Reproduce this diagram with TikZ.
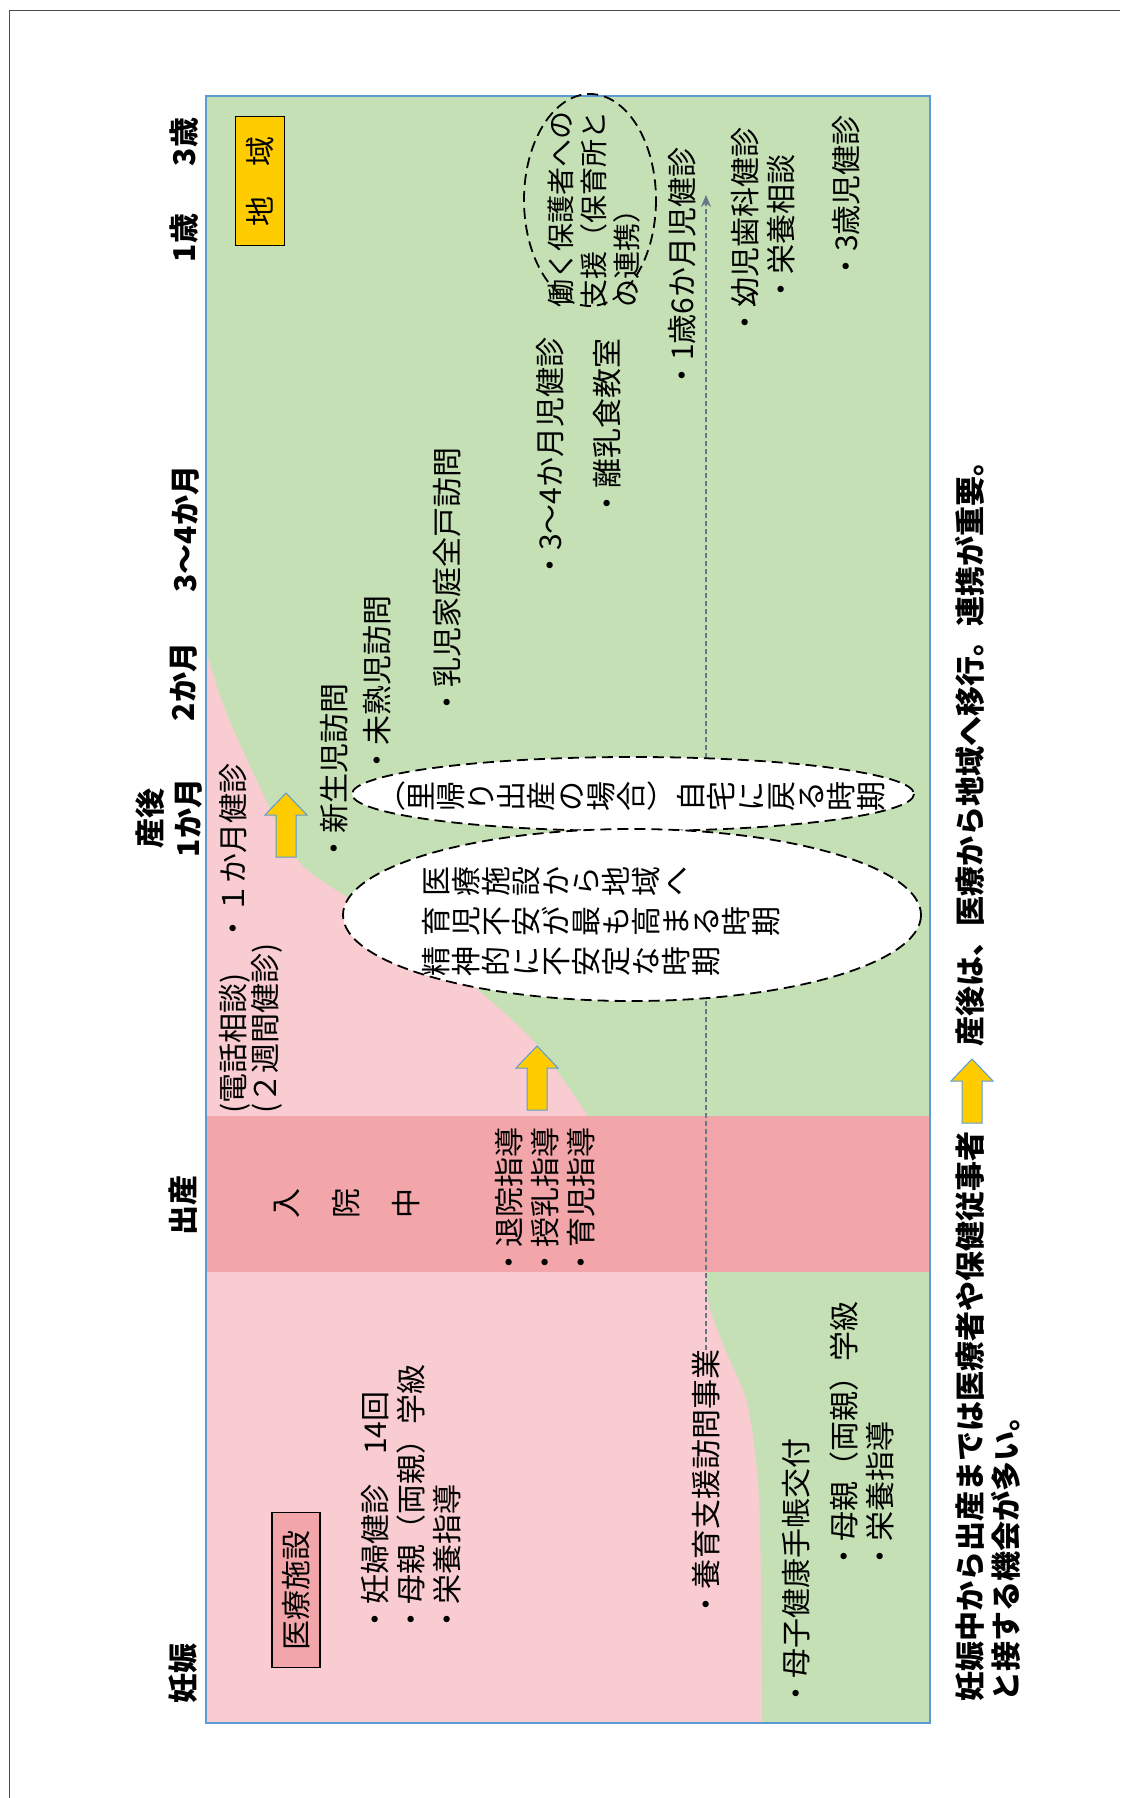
\documentclass[tikz,border=0pt]{standalone}
\usepackage{fontspec}
\setmainfont{Noto Sans CJK JP}
\usepackage{graphicx}
\usetikzlibrary{arrows.meta}

\definecolor{chiiki}{RGB}{197,224,180}
\definecolor{iryou}{RGB}{248,204,208}
\definecolor{nyuuin}{RGB}{243,166,169}
\definecolor{kiiro}{RGB}{255,204,0}
\definecolor{waku}{RGB}{91,155,213}
\definecolor{tenseniro}{RGB}{105,118,135}

% vertical (tategaki) text: each character turned by 90 degrees
\makeatletter
\newcommand\tatemoji[1]{\rotatebox[origin=c]{90}{\makebox[1em]{\rule[-.12em]{0pt}{1em}#1}}}
\newcommand\tate[1]{\@tfor\tatetok:=#1\do{\tatemoji{\tatetok}}}
\makeatother

% yellow block arrow: x of the middle, y of the tip
\newcommand\kiiroya[2]{%
  \draw[yajirushi] (#1-10,#2+64) -- (#1-10,#2+22) -- (#1-21,#2+22) -- (#1,#2)
    -- (#1+21,#2+22) -- (#1+10,#2+22) -- (#1+10,#2+64) -- cycle;}

\begin{document}
\begin{tikzpicture}[x=1pt, y=-1pt,
    txt/.style={rotate=90, anchor=west, inner sep=0pt, align=left,
      font=\fontsize{30}{36}\selectfont},
    midasi/.style={rotate=90, inner sep=0pt, align=center,
      font=\bfseries\fontsize{30}{38}\selectfont},
    tatetxt/.style={anchor=west, inner sep=0pt, align=left,
      font=\fontsize{30}{40}\selectfont},
    hatena/.style={draw=black, line width=1.8pt, dash pattern=on 11pt off 6pt},
    yajirushi/.style={fill=kiiro, draw=waku, line width=1pt},
    tensen/.style={draw=tenseniro, line width=1.5pt, dash pattern=on 5pt off 3pt,
      -{Stealth[length=12pt,width=10pt]}}]
    \fill[white] (0,0) rectangle (1120,1798);
    \useasboundingbox (0,0) rectangle (1120,1798);
    % outer frame
    \draw[gray!60!black, line width=1pt] (9,1798) -- (9,11) -- (1120,11);
    % community (green) and medical facility (pink)
    \fill[chiiki] (206,96) rectangle (930,1723);
    \fill[iryou] plot[smooth] coordinates {(206,650) (224,707) (256,779) (296,858)
        (345,896) (410,935) (477,989) (538,1046) (588,1116)}
      -- plot[smooth] coordinates {(706,1272) (710,1309) (728,1356) (746,1399)
        (755,1452) (760,1524) (762,1723)}
      -- (206,1723) -- cycle;
    % hospital stay
    \fill[nyuuin] (206,1116) rectangle (930,1272);
    \draw[waku, line width=1.2pt] (206,96) rectangle (930,1723);

    % dashed arrow from the home visit support
    \node[txt] (yoiku) at (706,1620) {・養育支援訪問事業};
    \coordinate (yoikuend) at (706,195);
    \draw[tensen] (yoiku.east) -- (yoikuend);

    % ellipses
    \draw[hatena] (590,200) ellipse [x radius=66, y radius=106];
    \draw[hatena, fill=white] (633,794) ellipse [x radius=281, y radius=37];
    \draw[hatena, fill=white] (632,915) ellipse [x radius=289, y radius=86];
    \node[tatetxt] (satogaeri) at (376,796) {（\tate{里帰り出産の場合}）\tate{自宅に戻る時期}};
    \node[tatetxt] (fuan) at (421,921) {\tate{医療施設から地域へ}\\
      \tate{育児不安が最も高まる時期}\\\tate{精神的に不安定な時期}};
    \node[txt, font=\fontsize{28}{33}\selectfont] (hataraku) at (594,308)
      {働く保護者への\\支援（保育所と\\の連携）};

    % time axis
    \node[midasi] (ninshin) at (183,1673) {妊娠};
    \node[midasi] (shussan) at (183,1205) {出産};
    \node[midasi] (ikkagetsu) at (169,818) {産後\\1か月};
    \node[midasi] (nikagetsu) at (184,682) {2か月};
    \node[midasi] (sankagetsu) at (186,529) {3～4か月};
    \node[midasi] (issai) at (184,238) {1歳};
    \node[midasi] (sansai) at (184,142) {3歳};

    % boxes
    \node[draw=black, fill=nyuuin, line width=1.2pt, rotate=90, inner sep=0pt,
      minimum width=155pt, minimum height=48pt,
      font=\fontsize{30}{36}\selectfont] (iryoushisetsu) at (296,1590) {医療施設};
    \node[draw=black, fill=kiiro, line width=1.2pt, rotate=90, inner sep=0pt,
      minimum width=129pt, minimum height=49pt,
      font=\fontsize{30}{36}\selectfont] (chiikibox) at (260,181) {地　域};
    \node[tatetxt, anchor=center] (nyuuinchuu) at (346,1203) {\tate{入　院　中}};

    % pregnancy
    \node[txt] (kenshin) at (411,1635) {・妊婦健診　14回\\・母親（両親）学級\\・栄養指導};
    \node[txt] (techou) at (796,1709) {・母子健康手帳交付};
    \node[txt] (gakkyuu) at (862,1572) {・母親（両親）学級\\・栄養指導};
    % hospital
    \node[txt] (shidou) at (545,1278) {・退院指導\\・授乳指導\\・育児指導};
    \node[txt, font=\fontsize{30}{31}\selectfont] (denwa) at (251,1114)
      {(電話相談)　・１か月健診\\(２週間健診)};
    % community
    \node[txt] (shinseiji) at (334,864) {・新生児訪問};
    \node[txt] (mijukuji) at (377,776) {・未熟児訪問};
    \node[txt] (zenko) at (447,718) {・乳児家庭全戸訪問};
    \node[txt] (sanyon) at (550,581) {・3～4か月児健診};
    \node[txt] (rinyuu) at (607,519) {・離乳食教室};
    \node[txt] (issairoku) at (682,391) {・1歳6か月児健診};
    \node[txt] (shika) at (745,338) {・幼児歯科健診};
    \node[txt] (eiyou) at (781,305) {・栄養相談};
    \node[txt] (sansaiji) at (846,282) {・3歳児健診};

    % yellow arrows
    \kiiroya{286}{793}
    \kiiroya{537}{1046}
    \kiiroya{972}{1059}

    % caption
    \node[txt, font=\bfseries\fontsize{30}{36}\selectfont] (setsumei1) at (970,1702)
      {妊娠中から出産までは医療者や保健従事者};
    \node[txt, font=\bfseries\fontsize{30}{36}\selectfont] (setsumei2) at (970,1047)
      {産後は、医療から地域へ移行。連携が重要。};
    \node[txt, font=\bfseries\fontsize{30}{36}\selectfont] (setsumei3) at (1006,1702)
      {と接する機会が多い。};
\end{tikzpicture}
\end{document}
